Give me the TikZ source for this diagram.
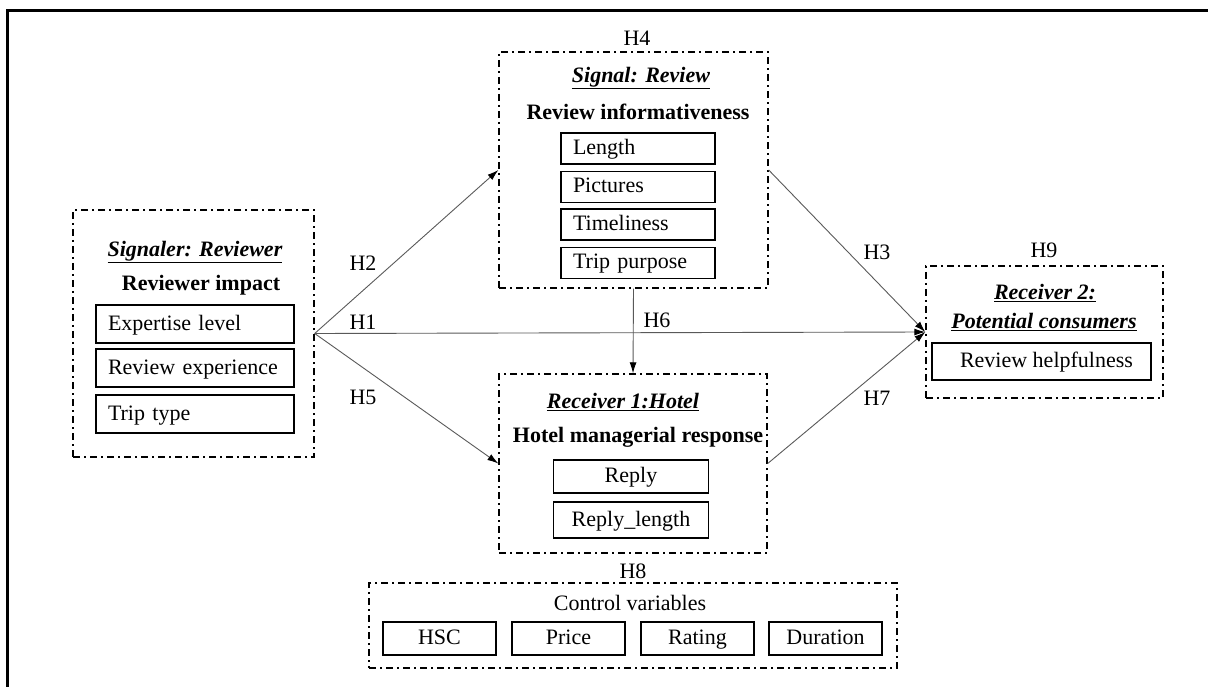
\documentclass[tikz,border=0pt]{standalone}
\usepackage{fontspec}
\setmainfont{Liberation Serif}
\usetikzlibrary{arrows.meta}
\begin{document}
\begin{tikzpicture}[x=1pt, y=-1pt,
  every node/.style={font=\fontsize{22}{26}\selectfont},
  frame/.style={draw, line width=1.4pt, dash pattern=on 7pt off 4pt on 2pt off 4pt, inner sep=0pt},
  leftitem/.style={draw, line width=1.4pt, inner xsep=12pt, inner ysep=0pt, text width=#1, align=left, text height=16pt, text depth=4pt},
  centeritem/.style={draw, line width=1.4pt, inner sep=0pt, minimum width=#1, align=center, text height=16pt, text depth=4pt},
  conn/.style={draw=black!65, line width=0.9pt, -{Latex[length=11pt, width=7pt, color=black]}}]
\useasboundingbox (0,0) rectangle (1208,687);
\draw[line width=3pt] (7.5,687) -- (7.5,10.5) -- (1208,10.5);

\node[frame, minimum width=241pt, minimum height=247pt] (reviewer) at (193.5,333.5) {};
\node (reviewer title) at (195,252) {\underline{\textbf{\textit{Signaler: Reviewer}}}};
\node (reviewer var) at (201,285) {\textbf{Reviewer impact}};
\foreach \y/\t [count=\i] in {324/Expertise level, 368/Review experience, 414/Trip type} {
  \node[leftitem=174pt, minimum height=38pt] (reviewer item \i) at (195,\y) {\t};
}

\node (h4) at (637,38) {H4};
\node[frame, minimum width=269pt, minimum height=236pt] (review) at (633.5,170) {};
\node (review title) at (641,78) {\underline{\textbf{\textit{Signal: Review}}}};
\node (review var) at (638,112) {\textbf{Review informativeness}};
\foreach \y/\t [count=\i] in {148.5/Length, 187/Pictures, 224.5/Timeliness, 263/Trip purpose} {
  \node[leftitem=130pt, minimum height=31pt] (review item \i) at (638,\y) {\t};
}

\node[frame, minimum width=268pt, minimum height=179pt] (hotel) at (633,463.5) {};
\node (hotel title) at (623,402) {\underline{\textbf{\textit{Receiver 1:Hotel}}}};
\node (hotel var) at (638,437) {\textbf{Hotel managerial response}};
\node[centeritem=155pt, minimum height=33pt] (reply) at (631,476.5) {Reply};
\node[centeritem=155pt, minimum height=36pt] (reply length) at (631,520) {Reply\_length};

\node (h9) at (1044,250) {H9};
\node[frame, minimum width=237pt, minimum height=132pt] (consumers) at (1044.5,332) {};
\node (consumers title) at (1045,293) {\underline{\textbf{\textit{Receiver 2:}}}};
\node (consumers title2) at (1044,322) {\underline{\textbf{\textit{Potential consumers}}}};
\node[centeritem=219pt, minimum height=37pt] (helpfulness) at (1041.5,361.5) {\hspace{10pt}Review helpfulness};

\node (h8) at (633,571) {H8};
\node[frame, minimum width=528pt, minimum height=85pt] (controls) at (633,625.5) {};
\node (controls title) at (630,603) {Control variables};
\foreach \x/\t [count=\i] in {439.5/HSC, 568.5/Price, 697.5/Rating, 825.5/Duration} {
  \node[centeritem=113pt, minimum height=33pt] (control \i) at (\x,638.5) {\t};
}

\draw[conn] (reviewer.east) -- (review.west);
\draw[conn] (reviewer.east) -- (consumers.west);
\draw[conn] (reviewer.east) -- (hotel.west);
\draw[conn] (review.south) -- (hotel.north);
\draw[conn] (review.east) -- (consumers.west);
\draw[conn] (hotel.east) -- (consumers.west);

\node (h2) at (363,263) {H2};
\node (h1) at (363,322) {H1};
\node (h5) at (363,397) {H5};
\node (h6) at (657,320) {H6};
\node (h3) at (877,252) {H3};
\node (h7) at (877,398) {H7};
\end{tikzpicture}
\end{document}
